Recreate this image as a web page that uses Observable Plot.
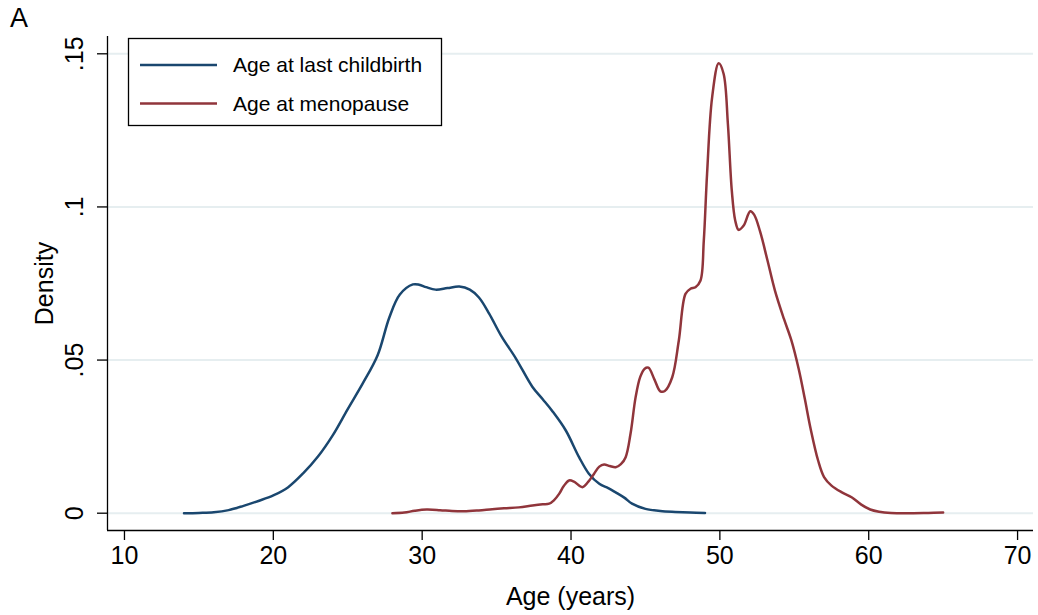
<!DOCTYPE html>
<html><head><meta charset="utf-8">
<script src="https://cdn.jsdelivr.net/npm/d3@7"></script>
<script src="https://cdn.jsdelivr.net/npm/@observablehq/plot@0.6"></script>
<style>
body{margin:0;background:#fff;font-family:"Liberation Sans",Arial,sans-serif}
#chart{position:relative;width:1038px;height:615px}
#panel{position:absolute;left:10px;top:5px;font-size:27px;line-height:1;color:#000}
</style>
</head><body>
<div id="chart"><div id="panel">A</div></div>
<script>
// Age at last childbirth (kernel density)
const childAge = [14,15,16,17,18,19,20,21,22,23,24,25,26,27,27.8,28.5,29.38,29.8,30.27,30.9,31.7,32.5,33.2,33.8,34.5,35.3,36.3,37.4,38.1,38.75,39.65,40.54,41.2,41.9,42.5,43,43.6,44.1,45,46,47,48,49];
const childDensity = [0,0.0001,0.0003,0.001,0.0024,0.004,0.0058,0.0085,0.013,0.0185,0.0255,0.034,0.0423,0.0515,0.064,0.0714,0.0747,0.0746,0.0738,0.073,0.0735,0.074,0.073,0.0705,0.0652,0.058,0.0505,0.0413,0.0372,0.0333,0.027,0.0183,0.0129,0.0096,0.0082,0.0068,0.005,0.0031,0.0014,0.0007,0.0004,0.0002,0.0001];
// Age at menopause (kernel density)
const menoAge = [28,28.8,29.5,30.3,31.2,32,32.8,33.8,34.7,35.5,36.5,37.41,38.1,38.53,38.85,39.2,39.5,39.87,40.2,40.76,41.15,41.55,41.9,42.22,42.6,43,43.35,43.67,44,44.34,44.65,44.95,45.2,45.6,46,46.3,46.8,47.24,47.69,48.03,48.36,48.7,48.92,49.14,49.48,49.92,50.25,50.54,50.8,51.03,51.26,51.6,52.04,52.3,52.7,53.2,53.7,54.3,54.8,55.3,55.7,56.1,56.6,57,57.5,58.2,58.85,59.5,60.1,60.7,61.5,62.5,64,65];
const menoDensity = [0,0.0002,0.0008,0.0012,0.001,0.0007,0.0006,0.0009,0.0013,0.0016,0.0019,0.0025,0.0029,0.0031,0.0042,0.0063,0.0088,0.0107,0.0103,0.0085,0.0102,0.0129,0.0152,0.0159,0.0154,0.015,0.016,0.0183,0.026,0.0379,0.0445,0.0472,0.0475,0.0437,0.0398,0.0399,0.0444,0.0563,0.0716,0.0733,0.0738,0.076,0.089,0.1108,0.1358,0.1469,0.1435,0.127,0.1054,0.0956,0.0925,0.0939,0.0986,0.0975,0.092,0.0825,0.0727,0.0635,0.0565,0.047,0.0375,0.0275,0.0172,0.0118,0.009,0.0068,0.0052,0.0028,0.0012,0.0005,0.0001,0,0.0001,0.0002];

const seriesNames = ["Age at last childbirth", "Age at menopause"];
const seriesColors = ["#1a476f", "#90353b"];
const xTicks = [10, 20, 30, 40, 50, 60, 70];
const yTicks = [0, 0.05, 0.1, 0.15];
const yTickLabels = ["0", ".05", ".1", ".15"];
const xTitle = "Age (years)";
const yTitle = "Density";

const xDomain = [8.86, 71.07];
const yDomain = [-0.00565, 0.15565];

const childData = childAge.map((x, i) => ({x, y: childDensity[i]}));
const menoData = menoAge.map((x, i) => ({x, y: menoDensity[i]}));

const font = '"Liberation Sans", Arial, sans-serif';

const plot = Plot.plot({
  width: 1038,
  height: 615,
  marginLeft: 107,
  marginRight: 5,
  marginTop: 36,
  marginBottom: 85,
  style: {fontFamily: font, fontSize: "25px", color: "#000", background: "transparent"},
  x: {domain: xDomain},
  y: {domain: yDomain},
  marks: [
    Plot.ruleY(yTicks, {stroke: "#e6eef0", strokeWidth: 2}),
    Plot.axisX({ticks: xTicks, tickSize: 10, tickPadding: 6, tickFormat: d => String(d),
      label: xTitle, labelArrow: "none", labelAnchor: "center", labelOffset: 74, fontSize: 25, strokeWidth: 1.3}),
    Plot.axisY({ticks: yTicks, tickSize: 10, tickPadding: 15, tickRotate: -90,
      tickFormat: d => yTickLabels[yTicks.indexOf(d)],
      label: yTitle, labelArrow: "none", labelAnchor: "center", labelOffset: 72, fontSize: 25, strokeWidth: 1.3}),
    Plot.ruleX([xDomain[0]], {stroke: "#000", strokeWidth: 1.3}),
    Plot.ruleY([yDomain[0]], {stroke: "#000", strokeWidth: 1.3}),
    Plot.line(childData, {x: "x", y: "y", stroke: seriesColors[0], strokeWidth: 2.5, curve: "catmull-rom"}),
    Plot.line(menoData, {x: "x", y: "y", stroke: seriesColors[1], strokeWidth: 2.5, curve: "catmull-rom"})
  ]
});

document.getElementById("chart").appendChild(plot);

// Legend box inside the plot (Stata style)
const svg = d3.select(plot);
const lg = svg.append("g").attr("font-family", font).attr("font-size", 21).attr("text-anchor", "start");
lg.append("rect").attr("x", 128.5).attr("y", 38.5).attr("width", 313).attr("height", 87)
  .attr("fill", "#fff").attr("stroke", "#000").attr("stroke-width", 1.3);
seriesNames.forEach((name, i) => {
  const cy = 65 + i * 38.5;
  lg.append("line").attr("x1", 140).attr("x2", 217).attr("y1", cy).attr("y2", cy)
    .attr("stroke", seriesColors[i]).attr("stroke-width", 2.5);
  lg.append("text").attr("x", 233).attr("y", cy).attr("dy", "0.35em")
    .attr("text-anchor", "start").attr("fill", "#000").text(name);
});
</script>
</body></html>
